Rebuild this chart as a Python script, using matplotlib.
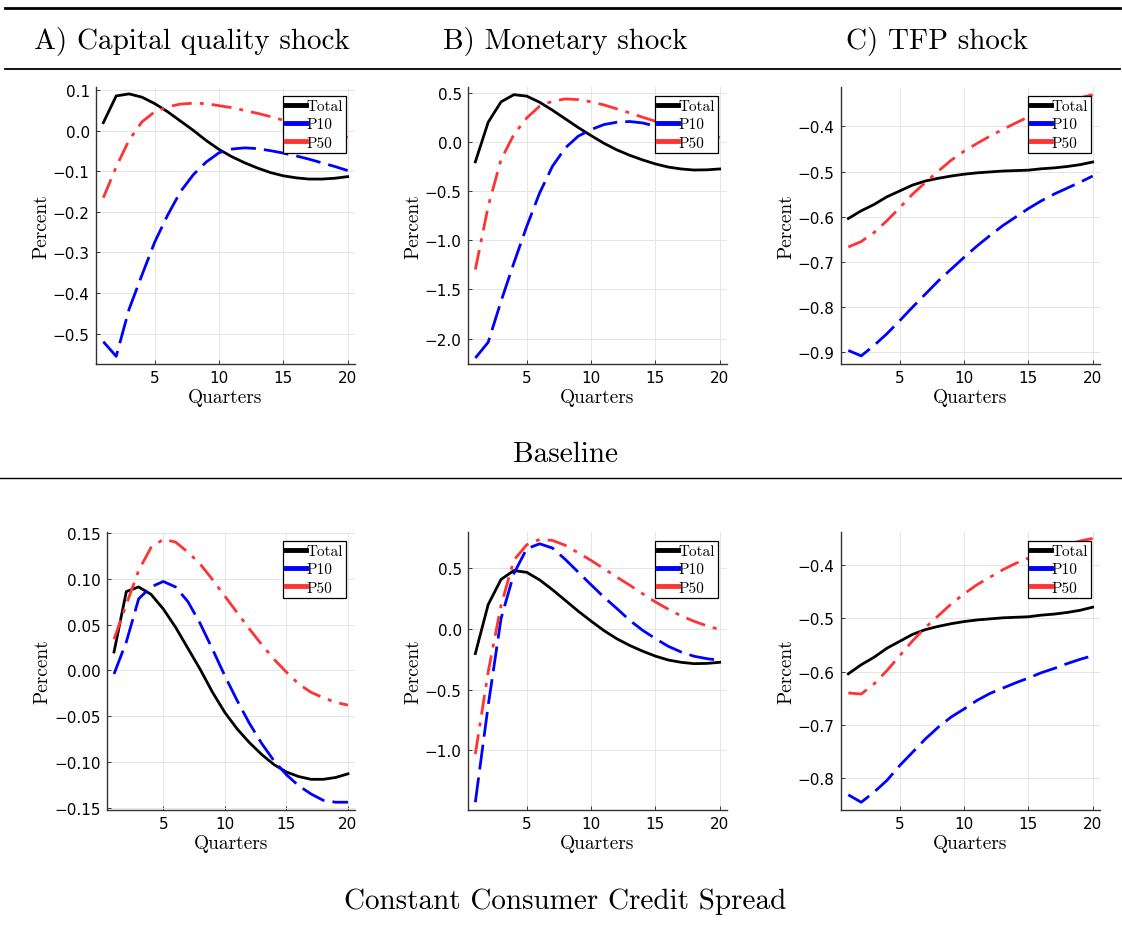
import numpy as np
import matplotlib
matplotlib.use("Agg")
import matplotlib.pyplot as plt
from matplotlib.lines import Line2D

W, H = 1122, 929

quarters = np.arange(1, 21)

# Total is the same in both rows
total_cq = [0.020, 0.086, 0.091, 0.083, 0.067, 0.047, 0.024, 0.001, -0.024, -0.046,
            -0.064, -0.079, -0.092, -0.103, -0.111, -0.116, -0.119, -0.119, -0.117, -0.113]
total_mp = [-0.203, 0.200, 0.407, 0.480, 0.465, 0.403, 0.322, 0.234, 0.146, 0.064,
            -0.014, -0.081, -0.136, -0.183, -0.224, -0.256, -0.275, -0.286, -0.284, -0.275]
total_tfp = [-0.604, -0.587, -0.573, -0.556, -0.543, -0.530, -0.521, -0.515, -0.510, -0.506,
             -0.503, -0.501, -0.499, -0.498, -0.497, -0.494, -0.492, -0.489, -0.485, -0.479]

# baseline
p10_cq_base = [-0.520, -0.556, -0.440, -0.356, -0.274, -0.208, -0.150, -0.108, -0.077, -0.054,
               -0.045, -0.042, -0.044, -0.049, -0.055, -0.062, -0.070, -0.079, -0.088, -0.098]
p50_cq_base = [-0.165, -0.089, -0.023, 0.022, 0.047, 0.059, 0.066, 0.068, 0.067, 0.062,
               0.057, 0.050, 0.043, 0.035, 0.026, 0.017, 0.009, 0.000, -0.008, -0.016]
p10_mp_base = [-2.197, -2.037, -1.620, -1.230, -0.858, -0.519, -0.247, -0.061, 0.058, 0.125,
               0.176, 0.200, 0.207, 0.193, 0.160, 0.125, 0.085, 0.040, -0.003, -0.050]
p50_mp_base = [-1.298, -0.654, -0.180, 0.075, 0.244, 0.363, 0.414, 0.437, 0.430, 0.407,
               0.376, 0.336, 0.295, 0.251, 0.210, 0.170, 0.130, 0.100, 0.070, 0.045]
p10_tfp_base = [-0.896, -0.908, -0.885, -0.859, -0.830, -0.800, -0.771, -0.742, -0.716, -0.690,
                -0.665, -0.642, -0.620, -0.601, -0.582, -0.565, -0.550, -0.537, -0.524, -0.510]
p50_tfp_base = [-0.667, -0.655, -0.635, -0.609, -0.580, -0.550, -0.524, -0.499, -0.475, -0.455,
                -0.438, -0.422, -0.407, -0.393, -0.379, -0.367, -0.356, -0.346, -0.337, -0.330]

# constant consumer credit spread
p10_cq_ccs = [-0.004, 0.031, 0.078, 0.091, 0.097, 0.091, 0.075, 0.051, 0.023, -0.006,
              -0.033, -0.058, -0.080, -0.099, -0.114, -0.126, -0.135, -0.142, -0.144, -0.144]
p50_cq_ccs = [0.034, 0.072, 0.109, 0.134, 0.143, 0.140, 0.129, 0.116, 0.099, 0.081,
              0.063, 0.045, 0.028, 0.012, -0.002, -0.015, -0.024, -0.030, -0.035, -0.038]
p10_mp_ccs = [-1.426, -0.630, 0.085, 0.456, 0.660, 0.700, 0.665, 0.571, 0.467, 0.363,
              0.261, 0.168, 0.071, -0.011, -0.080, -0.143, -0.190, -0.225, -0.245, -0.258]
p50_mp_ccs = [-1.030, -0.354, 0.195, 0.566, 0.692, 0.736, 0.728, 0.687, 0.626, 0.563,
              0.495, 0.426, 0.360, 0.290, 0.222, 0.162, 0.107, 0.063, 0.025, -0.005]
p10_tfp_ccs = [-0.831, -0.845, -0.826, -0.804, -0.776, -0.751, -0.726, -0.704, -0.685, -0.670,
               -0.654, -0.641, -0.631, -0.621, -0.612, -0.602, -0.594, -0.585, -0.577, -0.570]
p50_tfp_ccs = [-0.640, -0.642, -0.623, -0.598, -0.570, -0.542, -0.517, -0.495, -0.473, -0.454,
               -0.437, -0.423, -0.409, -0.397, -0.387, -0.377, -0.369, -0.362, -0.355, -0.350]

col_titles = ["A) Capital quality shock", "B) Monetary shock", "C) TFP shock"]
row_titles = ["Baseline", "Constant Consumer Credit Spread"]
legend_labels = ["Total", "P10", "P50"]

panels = [
    # (total, p10, p50, ylim, yticks, fmt)
    (total_cq, p10_cq_base, p50_cq_base, (-0.575, 0.108), [-0.5, -0.4, -0.3, -0.2, -0.1, 0.0, 0.1], "%.1f"),
    (total_mp, p10_mp_base, p50_mp_base, (-2.258, 0.558), [-2.0, -1.5, -1.0, -0.5, 0.0, 0.5], "%.1f"),
    (total_tfp, p10_tfp_base, p50_tfp_base, (-0.926, -0.313), [-0.9, -0.8, -0.7, -0.6, -0.5, -0.4], "%.1f"),
    (total_cq, p10_cq_ccs, p50_cq_ccs, (-0.1525, 0.151), [-0.15, -0.10, -0.05, 0.0, 0.05, 0.10, 0.15], "%.2f"),
    (total_mp, p10_mp_ccs, p50_mp_ccs, (-1.49, 0.797), [-1.0, -0.5, 0.0, 0.5], "%.1f"),
    (total_tfp, p10_tfp_ccs, p50_tfp_ccs, (-0.8595, -0.338), [-0.8, -0.7, -0.6, -0.5, -0.4], "%.1f"),
]

# axes boxes in pixels: left, top, right, bottom
boxes = [
    (96, 88, 355, 365), (468, 88, 727, 365), (841, 88, 1100, 365),
    (107, 533, 355, 811), (468, 533, 727, 811), (841, 533, 1100, 811),
]

serif = "cmr10"
red = "#ff3333"
lw = 2.0

fig = plt.figure(figsize=(W / 100, H / 100), dpi=100)


def px_box(l, t, r, b):
    return [l / W, 1 - b / H, (r - l) / W, (b - t) / H]


for (total, p10, p50, ylim, yticks, fmt), box in zip(panels, boxes):
    ax = fig.add_axes(px_box(*box))
    ax.plot(quarters, total, color="black", lw=lw, zorder=3)
    ax.plot(quarters, p10, color="blue", lw=lw, dashes=(9, 2.9), zorder=3)
    ax.plot(quarters, p50, color=red, lw=lw, dashes=(7.2, 2.9, 1.4, 2.9), zorder=3)
    ax.set_xlim(0.43, 20.57)
    ax.set_ylim(*ylim)
    ax.set_xticks([5, 10, 15, 20])
    ax.set_yticks(yticks)
    ax.set_yticklabels([(fmt % v).replace("-", "\u2212") for v in yticks])
    ax.grid(True, color="#e5e5e5", lw=0.7)
    ax.set_axisbelow(True)
    for s in ["top", "right"]:
        ax.spines[s].set_visible(False)
    for s in ["left", "bottom"]:
        ax.spines[s].set_color("#333333")
        ax.spines[s].set_linewidth(1.0)
    ax.tick_params(direction="in", length=3, width=0.7, colors="#333333",
                   labelcolor="black", labelsize=11, pad=4.5)
    ax.set_xlabel("Quarters", fontfamily=serif, fontsize=14, labelpad=2)
    ax.set_ylabel("Percent", fontfamily=serif, fontsize=14, labelpad=2)
    handles = [Line2D([], [], color="black", lw=3.5),
               Line2D([], [], color="blue", lw=3.5),
               Line2D([], [], color=red, lw=3.5)]
    leg = ax.legend(handles, legend_labels, loc="upper right",
                    prop={"family": serif, "size": 11}, fancybox=False,
                    framealpha=1, edgecolor="black", borderpad=0.2,
                    labelspacing=0.3, handlelength=1.3, handletextpad=0.0,
                    borderaxespad=0.6)
    leg.get_frame().set_linewidth(0.9)

# column titles and rules
for cx, t in zip([192, 565, 937], col_titles):
    fig.text(cx / W, 1 - 41 / H, t, ha="center", va="center",
             fontfamily=serif, fontsize=21)

fig.text(565 / W, 1 - 455 / H, row_titles[0], ha="center", va="center",
         fontfamily=serif, fontsize=21)
fig.text(565 / W, 1 - 902 / H, row_titles[1], ha="center", va="center",
         fontfamily=serif, fontsize=21)

for y, w, x0, x1 in [(8.5, 2.0, 5, 1120), (70, 1.3, 5, 1120), (479, 1.0, 0, 1122)]:
    fig.add_artist(Line2D([x0 / W, x1 / W], [1 - y / H, 1 - y / H], color="black",
                          lw=w, transform=fig.transFigure))

fig.savefig("out.png", dpi=100)
